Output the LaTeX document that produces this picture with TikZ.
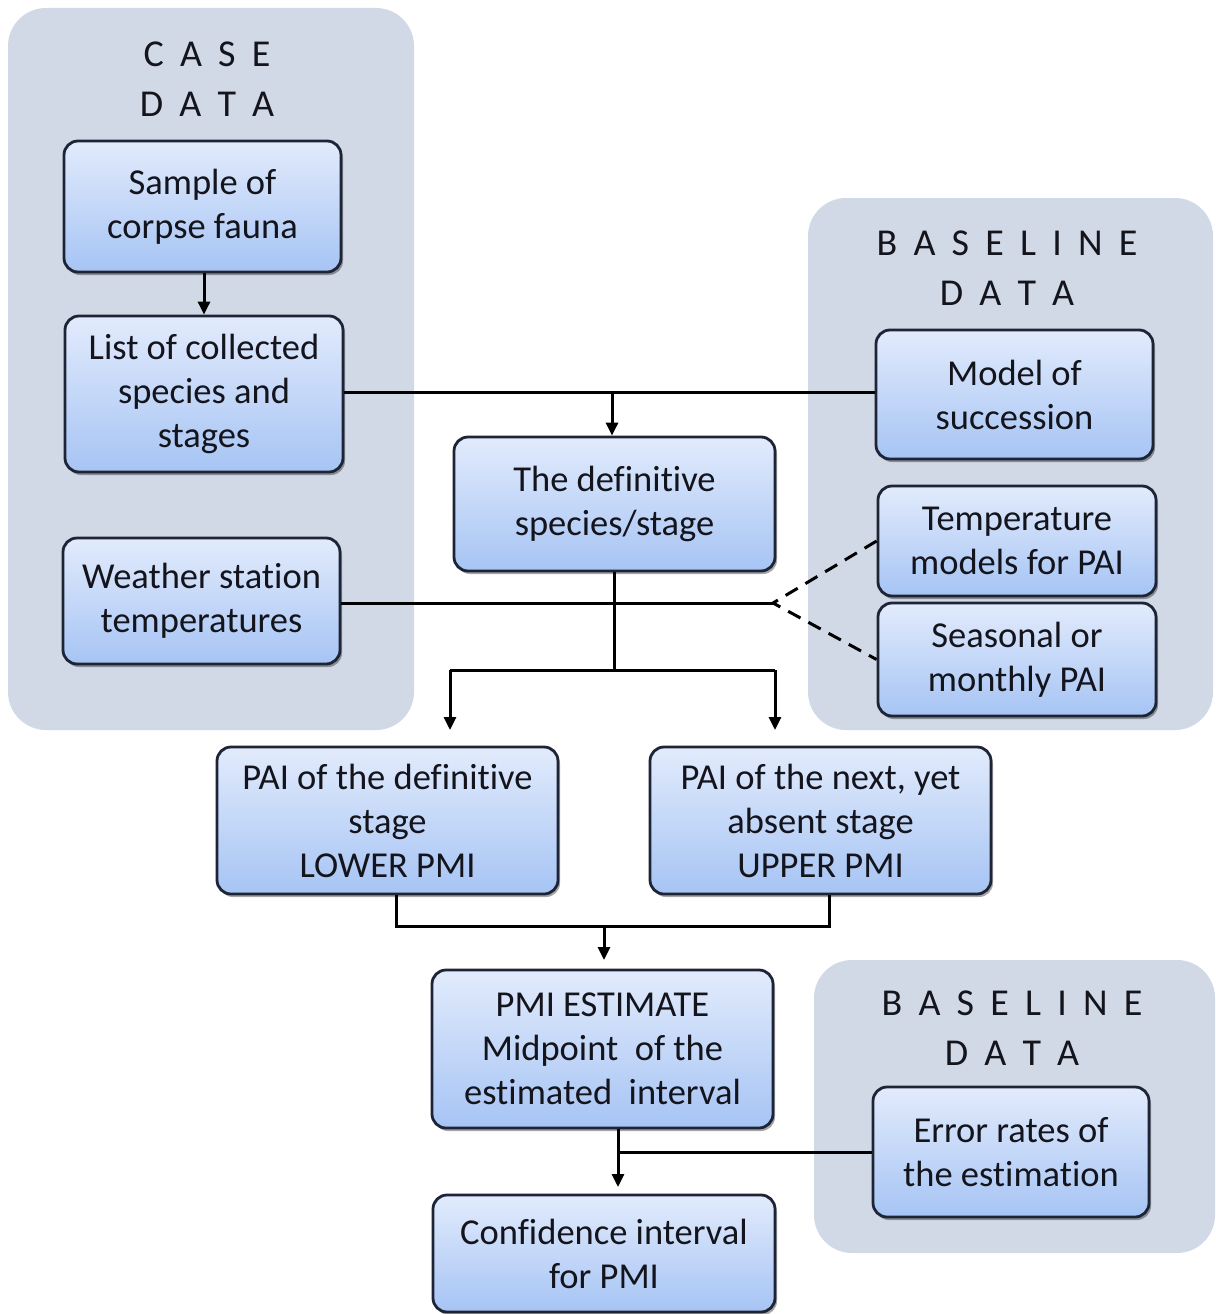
\documentclass[tikz,border=0pt]{standalone}
\usepackage{fontspec}
\setmainfont{Carlito}[Ligatures=NoCommon]
\newfontfamily\headfont[LetterSpace=20]{Carlito}
\usetikzlibrary{arrows.meta,shadows}
\definecolor{grpbg}{RGB}{210,217,230}
\definecolor{boxtop}{RGB}{226,235,252}
\definecolor{boxbot}{RGB}{166,196,244}
\definecolor{boxline}{RGB}{28,36,54}
\definecolor{txt}{RGB}{20,20,28}
\tikzset{
  grp/.style={fill=grpbg, draw=none, rounded corners=38pt},
  stepbox/.style={draw=boxline, line width=2.8pt, rounded corners=14pt,
    top color=boxtop, bottom color=boxbot, align=center, text=txt,
    font=\fontsize{36.5}{44}\selectfont, inner sep=0pt,
    drop shadow={shadow xshift=2pt, shadow yshift=-3pt, opacity=0.35, fill=black}},
  head/.style={align=center, text=txt, font=\fontsize{38}{50}\selectfont\headfont, inner sep=0pt},
  conn/.style={line width=3pt, draw=black},
  arr/.style={conn, -{Triangle[length=13pt,width=12pt]}},
  dashline/.style={line width=3pt, dash pattern=on 14pt off 9pt},
}
\begin{document}
\begin{tikzpicture}[x=1pt,y=-1pt]
\useasboundingbox (0,0) rectangle (1215,1314);
\fill[white] (0,0) rectangle (1215,1314);
% group backgrounds
\path[grp] (8,8) rectangle (414,730);
\path[grp] (808,198) rectangle (1213,730);
\path[grp] (814,960) rectangle (1215,1253);
% headings
\node[head] (hcase) at (207,79) {C A S E\\D A T A};
\node[head] (hbase1) at (1007,268) {B A S E L I N E\\D A T A};
\node[head] (hbase2) at (1012,1028) {B A S E L I N E\\D A T A};
% boxes
\node[stepbox, minimum width=277pt, minimum height=131pt] (sample) at (202.5,206.5) {Sample of\\corpse fauna};
\node[stepbox, minimum width=278pt, minimum height=156pt] (list) at (204,394) {List of collected\\species and\\stages};
\node[stepbox, minimum width=277pt, minimum height=126pt] (weather) at (201.5,601) {Weather station\\temperatures};
\node[stepbox, minimum width=277pt, minimum height=129pt] (model) at (1014.5,394.5) {Model of\\succession};
\node[stepbox, minimum width=321pt, minimum height=134pt] (defin) at (614.5,504) {The definitive\\species/stage};
\node[stepbox, minimum width=278pt, minimum height=110pt] (temp) at (1017,541) {Temperature\\models for PAI};
\node[stepbox, minimum width=278pt, minimum height=113pt] (season) at (1017,659.5) {Seasonal or\\monthly PAI};
\node[stepbox, minimum width=341pt, minimum height=147pt] (pail) at (387.5,820.5) {PAI of the definitive\\stage\\LOWER PMI};
\node[stepbox, minimum width=341pt, minimum height=147pt] (paiu) at (820.5,820.5) {PAI of the next, yet\\absent stage\\UPPER PMI};
\node[stepbox, minimum width=341pt, minimum height=158pt] (pmi) at (602.5,1049) {PMI ESTIMATE\\Midpoint\ \ of the\\estimated\ \ interval};
\node[stepbox, minimum width=342pt, minimum height=117pt] (conf) at (604,1253.5) {Confidence interval\\for PMI};
\node[stepbox, minimum width=276pt, minimum height=130pt] (error) at (1011,1152) {Error rates of\\the estimation};
% connectors
\draw[arr] (sample.south -| 204,0) -- (list.north -| 204,0);
\coordinate (j1) at (612,392);
\draw[conn] (list.east |- j1) -- (model.west |- j1);
\draw[arr] (j1) -- (defin.north -| j1);
\coordinate (jw) at (773,603);
\draw[conn] (weather.east |- jw) -- (jw);
\draw[dashline] (temp.west) -- (jw) -- (season.west);
\coordinate (j2) at (614.5,670);
\coordinate (jl) at (450,670);
\coordinate (jr) at (775,670);
\coordinate (tl) at (450,730);
\coordinate (tr) at (775,730);
\draw[conn] (defin.south) -- (j2);
\draw[conn] (jl) -- (jr);
\draw[arr] (jl) -- (tl);
\draw[arr] (jr) -- (tr);
\coordinate (bl) at ([xshift=8.5pt]pail.south);
\coordinate (br) at ([xshift=8.5pt]paiu.south);
\coordinate (j3) at (604,926);
\coordinate (t3) at (604,960);
\draw[conn] (bl) -- (bl |- j3) -- (br |- j3) -- (br);
\draw[arr] (j3) -- (t3);
\coordinate (pb) at ([xshift=15.5pt]pmi.south);
\coordinate (j4) at (618,1152);
\coordinate (t4) at (618,1187);
\draw[conn] (pb) -- (j4);
\draw[arr] (j4) -- (t4);
\draw[conn] (j4) -- (error.west);
\end{tikzpicture}
\end{document}
